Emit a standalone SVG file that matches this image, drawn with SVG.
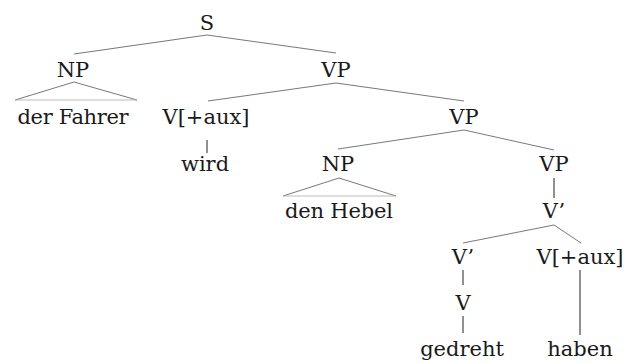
<svg xmlns="http://www.w3.org/2000/svg" width="626" height="363" viewBox="0 0 626 363">
<style>
.t text{font-family:'DejaVu Serif',serif;font-size:21px;fill:#1a1a1a;text-anchor:middle}
.e{stroke:#555;stroke-width:0.8;fill:none}
.v{stroke:#222;stroke-width:1;fill:none}
.b{stroke:#aaa;stroke-width:0.8;fill:none}
</style>
<rect width="626" height="363" fill="#fff"/>
<g id="connectors">
<line class="e" x1="207" y1="35" x2="74" y2="54"/>
<line class="e" x1="207" y1="35" x2="336" y2="53"/>
<polyline class="e" points="15,100 74,82 137,100"/>
<line class="b" x1="15" y1="100" x2="137" y2="100"/>
<line class="e" x1="336" y1="83" x2="208" y2="101"/>
<line class="e" x1="336" y1="83" x2="464" y2="101"/>
<line class="v" x1="207" y1="140" x2="207" y2="153"/>
<line class="e" x1="464" y1="130" x2="338" y2="149"/>
<line class="e" x1="464" y1="130" x2="554" y2="150"/>
<polyline class="e" points="283,196 339,178 396,196"/>
<line class="b" x1="283" y1="196" x2="396" y2="196"/>
<line class="v" x1="554" y1="178" x2="554" y2="198"/>
<line class="e" x1="554" y1="225" x2="463" y2="243"/>
<line class="e" x1="554" y1="225" x2="581" y2="243"/>
<line class="v" x1="463" y1="270" x2="463" y2="285"/>
<line class="v" x1="463" y1="316" x2="463" y2="333"/>
<line class="v" x1="580" y1="270" x2="580" y2="335"/>
</g>
<g class="t">
<g id="n-S"><text x="207" y="30">S</text></g>
<g id="n-NP1"><text x="73" y="77">NP</text></g>
<g id="n-VP1"><text x="336" y="77">VP</text></g>
<g id="n-derFahrer"><text x="73" y="124" textLength="111">der Fahrer</text></g>
<g id="n-Vaux1"><text x="206" y="124" textLength="87">V[+aux]</text></g>
<g id="n-VP2"><text x="464" y="124">VP</text></g>
<g id="n-wird"><text x="205" y="171">wird</text></g>
<g id="n-NP2"><text x="338" y="171">NP</text></g>
<g id="n-VP3"><text x="554" y="171">VP</text></g>
<g id="n-denHebel"><text x="339" y="218" textLength="108">den Hebel</text></g>
<g id="n-Vbar1"><text x="554" y="218">V’</text></g>
<g id="n-Vbar2"><text x="463" y="264">V’</text></g>
<g id="n-Vaux2"><text x="580" y="264" textLength="87">V[+aux]</text></g>
<g id="n-V"><text x="463" y="310">V</text></g>
<g id="n-gedreht"><text x="462" y="356">gedreht</text></g>
<g id="n-haben"><text x="580" y="356">haben</text></g>
</g>
</svg>
